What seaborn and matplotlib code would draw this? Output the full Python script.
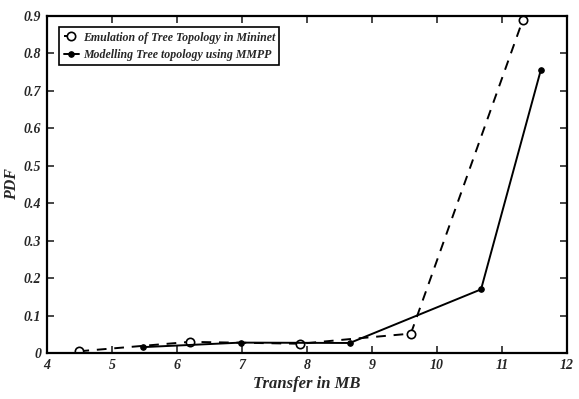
import matplotlib
matplotlib.use("Agg")
import matplotlib.pyplot as plt
import seaborn as sns
import pandas as pd

emu_x = [4.5, 6.2, 7.9, 8.7, 9.6, 11.32]
emu_y = [0.005, 0.030, 0.025, 0.038, 0.052, 0.887]
mod_x = [5.48, 6.98, 8.66, 10.68, 11.6]
mod_y = [0.016, 0.028, 0.027, 0.170, 0.755]
emu_label = "Emulation of Tree Topology in Mininet"
mod_label = "Modelling Tree topology using MMPP"
x_ticks = [4, 5, 6, 7, 8, 9, 10, 11, 12]
y_ticks = [0, 0.1, 0.2, 0.3, 0.4, 0.5, 0.6, 0.7, 0.8, 0.9]

sns.set_style("ticks")
plt.rcParams['font.family'] = ['Liberation Serif', 'DejaVu Serif']
plt.rcParams['font.weight'] = 'bold'
plt.rcParams['font.style'] = 'italic'

fig = plt.figure(figsize=(5.79, 3.99), dpi=100)
ax = fig.add_axes([0.081, 0.115, 0.898, 0.846])

emu = pd.DataFrame({"x": emu_x, "y": emu_y})
mod = pd.DataFrame({"x": mod_x, "y": mod_y})

sns.lineplot(data=emu, x="x", y="y", ax=ax, color="black", linestyle=(0, (5, 4)),
             linewidth=1.4, marker="o", markersize=6, markerfacecolor="white",
             markeredgecolor="black", markeredgewidth=1.2, label=emu_label, sort=False,
             markevery=[0, 1, 2, 4, 5])
sns.lineplot(data=mod, x="x", y="y", ax=ax, color="black", linestyle="-",
             linewidth=1.4, marker="o", markersize=4, markerfacecolor="black",
             markeredgecolor="black", label=mod_label, sort=False)

ax.set_xlim(4, 12)
ax.set_ylim(0, 0.9)
ax.set_xticks(x_ticks)
ax.set_yticks(y_ticks)
ax.set_xticklabels([str(t) for t in x_ticks])
ax.set_yticklabels(["0"] + [f"{t:.1f}" for t in y_ticks[1:]])
ax.tick_params(direction="in", top=True, right=True, length=5, width=1.2,
               labelsize=10, pad=4)
for lab in ax.get_xticklabels() + ax.get_yticklabels():
    lab.set_fontweight("bold")
    lab.set_fontstyle("italic")
for s in ax.spines.values():
    s.set_linewidth(1.6)
    s.set_color("black")

ax.set_xlabel("Transfer in MB", fontsize=12, fontweight="bold", fontstyle="italic", labelpad=3)
ax.set_ylabel("PDF", fontsize=11.5, fontweight="bold", fontstyle="italic")
ax.yaxis.set_label_coords(-0.052, 0.5)

leg = ax.legend(loc="upper left", bbox_to_anchor=(0.024, 0.965), fontsize=8.6,
                frameon=True, fancybox=False, edgecolor="black", framealpha=1,
                handlelength=1.3, handletextpad=0.3, borderpad=0.35, labelspacing=0.45,
                borderaxespad=0)
leg.get_frame().set_linewidth(1.2)
for t in leg.get_texts():
    t.set_fontweight("bold")
    t.set_fontstyle("italic")

fig.savefig("out.png", dpi=100)
